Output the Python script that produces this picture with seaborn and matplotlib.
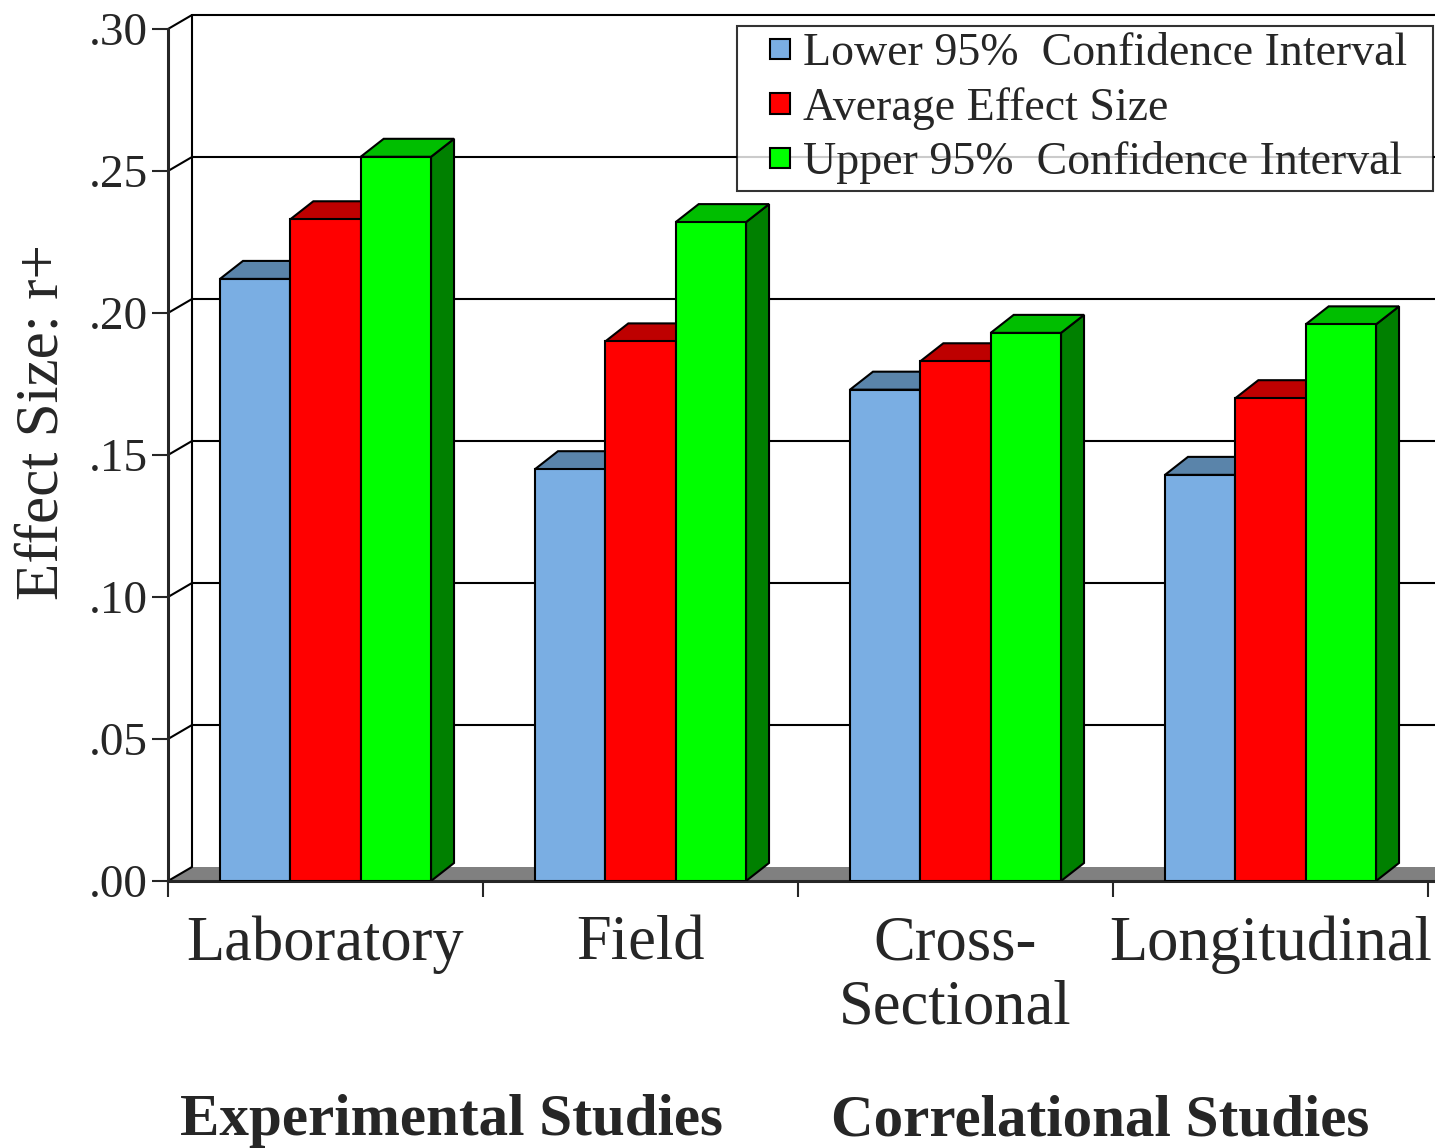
import numpy as np
import pandas as pd
import matplotlib.pyplot as plt
from matplotlib.patches import Polygon, Rectangle
from matplotlib.colors import to_hex
from matplotlib.legend_handler import HandlerPatch
from matplotlib.transforms import blended_transform_factory
import seaborn as sns

# data
studies = ['Laboratory', 'Field', 'Cross-\nSectional', 'Longitudinal']
series = ['Lower 95%  Confidence Interval', 'Average Effect Size',
          'Upper 95%  Confidence Interval']
lower = [0.212, 0.145, 0.173, 0.143]
average = [0.233, 0.190, 0.183, 0.170]
upper = [0.255, 0.232, 0.193, 0.196]
groups = ['Experimental Studies', 'Correlational Studies']
yticks = [0.00, 0.05, 0.10, 0.15, 0.20, 0.25, 0.30]
ytick_labels = ['.00', '.05', '.10', '.15', '.20', '.25', '.30']

front_colors = ['#7aaee3', '#ff0000', '#00ff00']
top_colors = ['#5a84aa', '#be0000', '#00be00']
side_colors = ['#486c8c', '#900000', '#008000']

sns.set_style('white')
plt.rcParams['font.family'] = ['Liberation Serif', 'DejaVu Serif']

W, H = 1435, 1148
fig = plt.figure(figsize=(W / 100, H / 100), dpi=100)
left_px, zero_px, top_px = 168, 881, 5
px_cat, px_unit = 315, 2840
ax = fig.add_axes([left_px / W, 1 - zero_px / H, (W - left_px) / W, (zero_px - top_px) / H])

df = pd.DataFrame({
    'study': studies * 3,
    'series': np.repeat(series, len(studies)),
    'r': lower + average + upper,
})
sns.barplot(data=df, x='study', y='r', hue='series', order=studies, hue_order=series,
            palette=dict(zip(series, front_colors)), width=0.67, saturation=1,
            edgecolor='black', linewidth=1.5, ax=ax)
bars = [p for p in ax.patches if p.get_height() > 0 and p.get_width() > 0]

xmax = -0.5 + (W - left_px) / px_cat
ax.set_xlim(-0.5, xmax)
ax.set_ylim(0, (zero_px - top_px) / px_unit)

# depth offsets (bars and back wall)
bdx, bdy = 23 / px_cat, 18 / px_unit
wdx, wdy = 24 / px_cat, 14 / px_unit

# fake 3d faces on each bar
bars.sort(key=lambda b: b.get_x())
for rank, bar in enumerate(bars):
    fc = to_hex(bar.get_facecolor())
    k = front_colors.index(fc) if fc in front_colors else 0
    x, w, h = bar.get_x(), bar.get_width(), bar.get_height()
    top = Polygon([(x, h), (x + bdx, h + bdy), (x + w + bdx, h + bdy), (x + w, h)],
                  closed=True, fc=top_colors[k], ec='black', lw=1.5, zorder=3 + 2 * rank)
    side = Polygon([(x + w, 0), (x + w + bdx, bdy), (x + w + bdx, h + bdy), (x + w, h)],
                   closed=True, fc=side_colors[k], ec='black', lw=1.5, zorder=3 + 2 * rank)
    ax.add_patch(side)
    ax.add_patch(top)
    bar.set_zorder(4 + 2 * rank)

# floor and back wall
floor = Polygon([(-0.5, 0), (-0.5 + wdx, wdy), (xmax + wdx, wdy), (xmax, 0)],
                closed=True, fc='#808080', ec='none', zorder=1.5)
ax.add_patch(floor)
for t in yticks:
    ax.plot([-0.5, -0.5 + wdx], [t, t + wdy], color='black', lw=1.5, zorder=2, clip_on=False)
    if t > 0:
        ax.plot([-0.5 + wdx, xmax], [t + wdy, t + wdy], color='black', lw=1.5, zorder=1,
                clip_on=False)
ax.plot([-0.5 + wdx, -0.5 + wdx], [wdy, 0.30 + wdy], color='black', lw=1.5, zorder=1,
        clip_on=False)

sns.despine(ax=ax)
ax.spines['left'].set_bounds(0, 0.30)
ax.spines['left'].set_linewidth(2.2)
ax.spines['bottom'].set_linewidth(2.2)
ax.spines['left'].set_zorder(30)

ax.set_yticks(yticks, ytick_labels)
ax.tick_params(axis='y', left=True, direction='out', length=11.5, width=1.5, pad=3,
               labelsize=34)
ax.set_xticks(range(len(studies)), studies)
ax.set_xticks(np.arange(-0.5, len(studies)), minor=True)
ax.tick_params(axis='x', which='major', bottom=True, length=0, pad=25, labelsize=45)
ax.tick_params(axis='x', which='minor', bottom=True, direction='out', length=11.5, width=1.5)
for lab in ax.get_xticklabels():
    lab.set_linespacing(1.12)

ax.set_xlabel('')
ax.set_ylabel('Effect Size: r+', fontsize=44)
ax.yaxis.label.set_verticalalignment('center')
ax.yaxis.set_label_coords(-0.0987, 0.524)


# small square legend keys sitting at the right of a wider key box
def square_key(legend, orig_handle, xdescent, ydescent, width, height, fontsize):
    s = 0.44 * fontsize
    return Rectangle((-xdescent + width - s, -ydescent + (height - s) / 2), s, s)


handles = [Rectangle((0, 0), 1, 1, fc=c, ec='black', lw=1.5) for c in front_colors]
leg = ax.legend(handles, series, loc='upper left',
                bbox_to_anchor=(737 / W, 1 - 192 / H, 696 / W, 166 / H),
                bbox_transform=fig.transFigure, mode='expand', frameon=True, fancybox=False,
                edgecolor='black', fontsize=33, handlelength=1.0, handleheight=0.6,
                handletextpad=0.28, labelspacing=0.25, borderpad=0.15, borderaxespad=0,
                handler_map={Rectangle: HandlerPatch(patch_func=square_key)})
leg.get_frame().set_linewidth(1.5)
leg.set_zorder(100)

trans = blended_transform_factory(ax.transData, fig.transFigure)
for name, xc in zip(groups, [0.40, 2.46]):
    ax.text(xc, 1 - 1135 / H, name, transform=trans, ha='center', va='baseline',
            fontsize=42.5, fontweight='bold')

fig.savefig('out.png', dpi=100)
